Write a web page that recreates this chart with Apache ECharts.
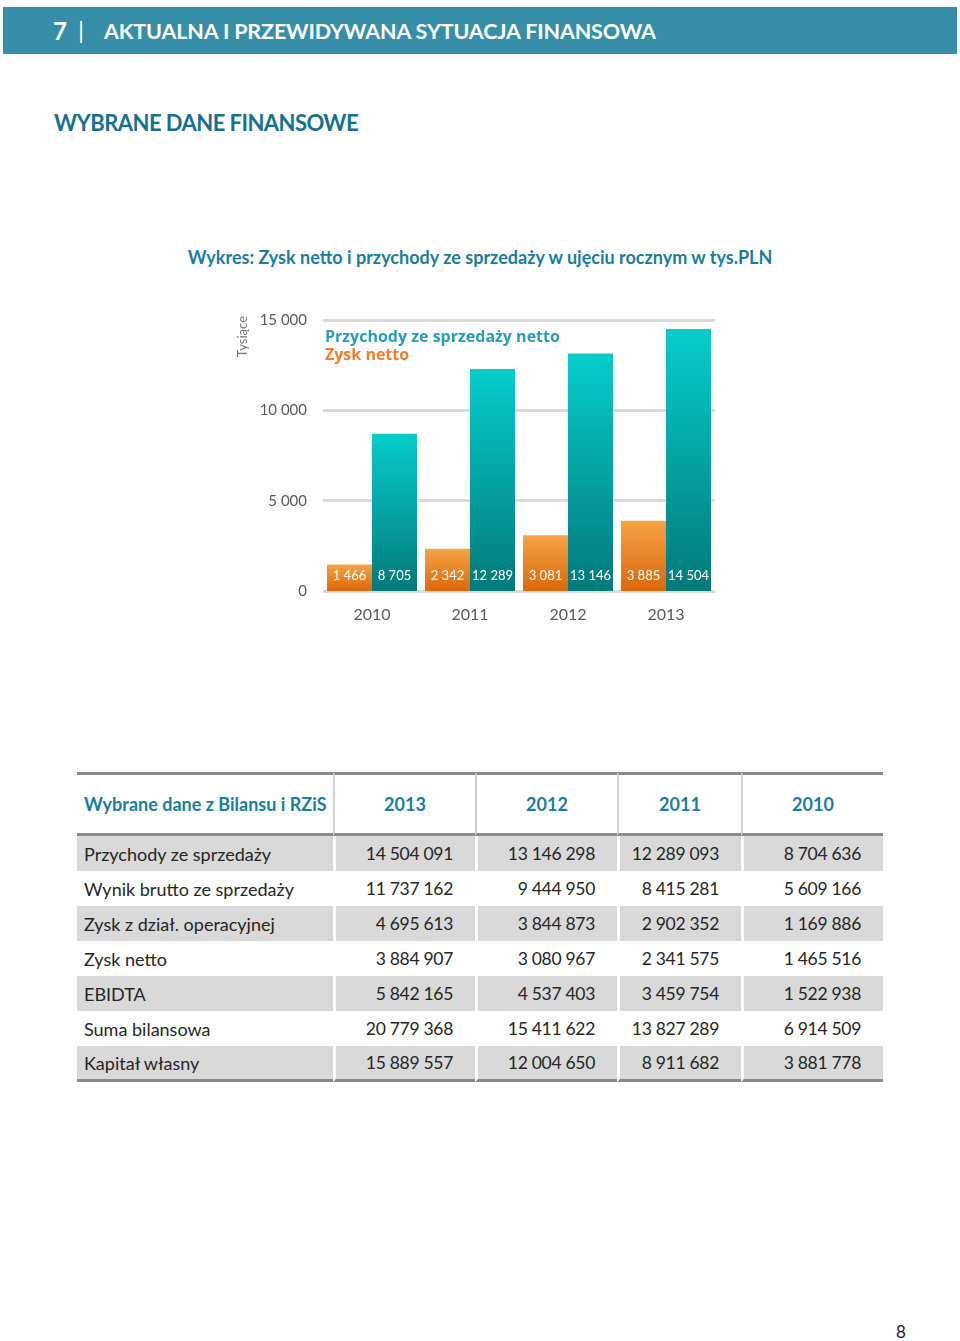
<!DOCTYPE html>
<html><head><meta charset="utf-8">
<script src="https://cdn.jsdelivr.net/npm/echarts@6/dist/echarts.min.js"></script>
<style>
html,body{margin:0;padding:0;background:#fff;width:960px;height:1341px;overflow:hidden;font-family:Lato,"Open Sans",sans-serif;}
#hdr{position:absolute;left:3px;top:7px;width:954px;height:47px;background:#368EA9;color:#fff;font-weight:bold;}
#hdr .n{position:absolute;left:50px;top:9px;font-size:24px;}
#hdr .bar{position:absolute;left:75px;top:8px;font-size:24px;font-weight:normal;}
#hdr .t{position:absolute;left:101px;top:11px;font-size:21.5px;letter-spacing:-0.15px;}
#sub{position:absolute;left:54px;top:109px;font-size:22px;font-weight:bold;color:#17708F;letter-spacing:-0.55px;}
#cap{position:absolute;left:0;width:960px;text-align:center;top:246px;font-size:18px;font-weight:bold;color:#1B7E99;}
#chart{position:absolute;left:0;top:0;width:960px;height:700px;}
#tbl{position:absolute;left:77px;top:772px;border-collapse:separate;border-spacing:0;font-size:18px;color:#262626;}
#tbl td,#tbl th{padding:0;height:35px;box-sizing:border-box;}
#tbl th{height:64px;color:#1B7E99;font-weight:bold;border-top:3px solid #8A8A8A;border-bottom:3px solid #8A8A8A;text-align:center;}
#tbl th+th{border-left:2px solid #CFCFCF;}
#tbl th:first-child{text-align:left;padding-left:7px;}
#tbl td:first-child{text-align:left;padding-left:7px;}
#tbl td{text-align:right;padding-right:22px;}
#tbl td+td{border-left:3px solid #fff;font-size:17.5px;letter-spacing:-0.3px;}
#tbl tr.g td{background:#D9D9D9;}
#tbl tr.last td{border-bottom:3px solid #8A8A8A;height:36px;}
#pg{position:absolute;left:896px;top:1321px;font-size:17px;color:#222;}
</style></head>
<body>
<div id="hdr"><span class="n">7</span><span class="bar">|</span><span class="t">AKTUALNA I PRZEWIDYWANA SYTUACJA FINANSOWA</span></div>
<div id="sub">WYBRANE DANE FINANSOWE</div>
<div id="cap">Wykres: Zysk netto i przychody ze sprzedaży w ujęciu rocznym w tys.PLN</div>
<div id="chart"></div>
<table id="tbl"><thead></thead><tbody></tbody></table>
<div id="pg">8</div>
<script>
// Chart data (tys. PLN)
const years = ['2010', '2011', '2012', '2013'];
const zyskNetto = [1466, 2342, 3081, 3885];
const przychody = [8705, 12289, 13146, 14504];
const yTicks = [0, 5000, 10000, 15000];

// Table data
const tableHeader = ['Wybrane dane z Bilansu i RZiS', '2013', '2012', '2011', '2010'];
const rowLabels = ['Przychody ze sprzedaży', 'Wynik brutto ze sprzedaży', 'Zysk z dział. operacyjnej', 'Zysk netto', 'EBIDTA', 'Suma bilansowa', 'Kapitał własny'];
const col2013 = ['14 504 091', '11 737 162', '4 695 613', '3 884 907', '5 842 165', '20 779 368', '15 889 557'];
const col2012 = ['13 146 298', '9 444 950', '3 844 873', '3 080 967', '4 537 403', '15 411 622', '12 004 650'];
const col2011 = ['12 289 093', '8 415 281', '2 902 352', '2 341 575', '3 459 754', '13 827 289', '8 911 682'];
const col2010 = ['8 704 636', '5 609 166', '1 169 886', '1 465 516', '1 522 938', '6 914 509', '3 881 778'];
const colWidths = [256, 142, 142, 124, 142];

function fmt(v){ return String(Math.round(v)).replace(/\B(?=(\d{3})+(?!\d))/g, ' '); }

// build table
const thead = document.querySelector('#tbl thead');
const htr = document.createElement('tr');
tableHeader.forEach((h,i)=>{ const th=document.createElement('th'); th.textContent=h; th.style.width=colWidths[i]+'px'; htr.appendChild(th); });
thead.appendChild(htr);
const tbody = document.querySelector('#tbl tbody');
rowLabels.forEach((lab,r)=>{
  const tr=document.createElement('tr');
  if(r%2===0) tr.className='g';
  if(r===rowLabels.length-1) tr.className+=' last';
  [lab, col2013[r], col2012[r], col2011[r], col2010[r]].forEach((v,i)=>{ const td=document.createElement('td'); td.textContent=v; td.style.width=colWidths[i]+'px'; tr.appendChild(td); });
  tbody.appendChild(tr);
});

const chart = echarts.init(document.getElementById('chart'), null, {renderer:'canvas'});
const lblStyle = {show:true, position:'insideBottom', distance:9, color:'#fff', fontSize:13, fontFamily:'Lato', formatter:p=>fmt(p.value)};
chart.setOption({
  animation:false,
  backgroundColor:'transparent',
  grid:{left:323, top:320, width:392, height:271, containLabel:false},
  legend:{
    orient:'vertical', left:320, top:324, itemGap:2, itemWidth:0, itemHeight:0, icon:'rect',
    selectedMode:false,
    textStyle:{fontFamily:'Open Sans', fontWeight:'bold', fontSize:16, lineHeight:16, padding:[0,0,0,-5]},
    data:[
      {name:'Przychody ze sprzedaży netto', textStyle:{color:'#2A9DB4'}},
      {name:'Zysk netto', textStyle:{color:'#EE7E2C'}}
    ]
  },
  graphic:[{type:'text', left:236, top:316, rotation:Math.PI/2, style:{text:'Tysiące', fill:'#777', font:'13px Lato'}}],
  xAxis:{type:'category', data:years, axisLine:{show:false}, axisTick:{show:false},
    axisLabel:{color:'#5a5a5a', fontSize:16, fontFamily:'Lato', margin:16}},
  yAxis:{type:'value', min:yTicks[0], max:yTicks[yTicks.length-1], interval:5000,
    axisLine:{show:false}, axisTick:{show:false},
    splitLine:{lineStyle:{color:'#DADADA', width:3}},
    axisLabel:{color:'#5a5a5a', fontSize:15, fontFamily:'Lato', margin:16, formatter:v=>fmt(v)}},
  series:[
    {name:'Zysk netto', type:'bar', data:zyskNetto, barWidth:45, barGap:'0%', label:lblStyle,
     itemStyle:{color:new echarts.graphic.LinearGradient(0,0,0,1,[{offset:0,color:'#F7A345'},{offset:1,color:'#D9680F'}])}},
    {name:'Przychody ze sprzedaży netto', type:'bar', data:przychody, barWidth:45, label:lblStyle,
     itemStyle:{color:new echarts.graphic.LinearGradient(0,0,0,1,[{offset:0,color:'#05CDCB'},{offset:1,color:'#04797A'}])}}
  ]
});
</script>
</body></html>
